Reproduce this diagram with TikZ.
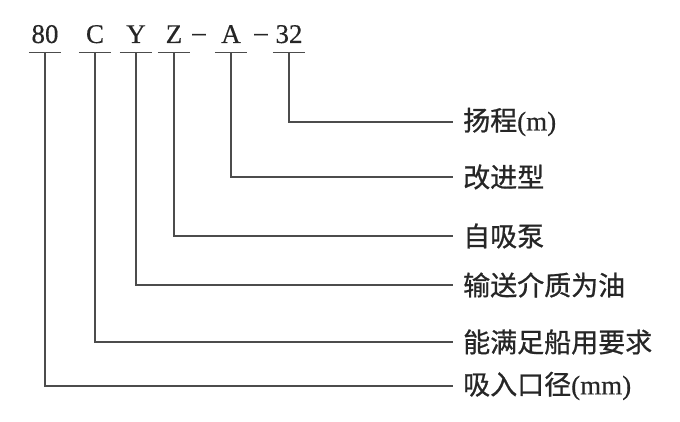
\documentclass[tikz,border=0pt]{standalone}
\usepackage{fontspec}
\setmainfont[FakeBold=0.4]{Liberation Serif}
\newfontfamily\cjk[FakeBold=0.8]{Noto Sans CJK SC}
\usepackage{tikz}
\usetikzlibrary{positioning}
\tikzset{
  x=1pt, y=-1pt,
  code/.style={font=\fontsize{27}{27}\selectfont, text=black!85,
    anchor=base, inner sep=0pt, text height=18pt, text depth=9pt,
    minimum width=32pt},
  hyphen/.style={font=\fontsize{27}{27}\selectfont, text=black!85,
    anchor=base, inner sep=0pt},
  meaning/.style={font=\fontsize{27}{27}\selectfont, text=black!85,
    anchor=west, inner xsep=10pt, inner ysep=0pt},
  leader/.style={draw=black!70, line width=1.3pt}
}

\begin{document}
\begin{tikzpicture}
    \useasboundingbox (0,0) rectangle (680,422);
    % model code
    \node[code] (n80) at (45,43) {80};
    \node[code] (nC) at (95,43) {C};
    \node[code] (nY) at (136,43) {Y};
    \node[code] (nZ) at (174,43) {Z};
    \node[hyphen] (m1) at (199,41) {–};
    \node[code] (nA) at (231,43) {A};
    \node[hyphen] (m2) at (261,41) {–};
    \node[code] (n32) at (289,43) {32};
    % meanings
    \node[meaning] (d32) at (453,122) {{\cjk 扬程}(m)};
    \node[meaning] (dA) at (453,177) {\cjk 改进型};
    \node[meaning] (dZ) at (453,236) {\cjk 自吸泵};
    \node[meaning] (dY) at (453,285) {\cjk 输送介质为油};
    \node[meaning] (dC) at (453,342) {\cjk 能满足船用要求};
    \node[meaning] (d80) at (453,386) {{\cjk 吸入口径}(mm)};
    % underlines
    \draw[leader] (n80.south west) -- (n80.south east);
    \draw[leader] (nC.south west) -- (nC.south east);
    \draw[leader] (nY.south west) -- (nY.south east);
    \draw[leader] (nZ.south west) -- (nZ.south east);
    \draw[leader] (nA.south west) -- (nA.south east);
    \draw[leader] (n32.south west) -- (n32.south east);
    % leaders
    \draw[leader] (n32.south) |- (d32.west);
    \draw[leader] (nA.south) |- (dA.west);
    \draw[leader] (nZ.south) |- (dZ.west);
    \draw[leader] (nY.south) |- (dY.west);
    \draw[leader] (nC.south) |- (dC.west);
    \draw[leader] (n80.south) |- (d80.west);
\end{tikzpicture}
\end{document}
